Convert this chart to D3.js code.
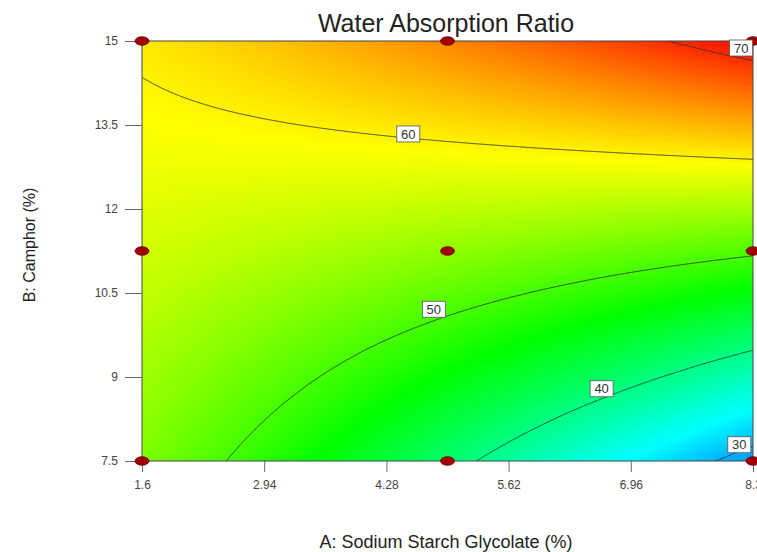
<!DOCTYPE html>
<html>
<head>
<meta charset="utf-8">
<script src="https://cdn.jsdelivr.net/npm/d3@7"></script>
<style>
  body { margin: 0; background: #fff; }
  svg { display: block; font-family: Arial, "Liberation Sans", sans-serif; }
</style>
</head>
<body>
<div id="chart"></div>
<script>
// ---- data ----
const xTicks = [1.6, 2.94, 4.28, 5.62, 6.96, 8.3];
const yTicks = [7.5, 9, 10.5, 12, 13.5, 15];
// predicted water absorption ratio at each tick crossing, rows from B = 7.5 up to B = 15
const response = [
  [52.90, 48.60, 43.70, 38.66, 33.49, 28.50],
  [54.60, 51.50, 48.10, 44.57, 40.94, 37.16],
  [56.28, 54.35, 52.36, 50.33, 48.24, 46.10],
  [57.86, 57.16, 56.51, 55.92, 55.37, 54.88],
  [59.27, 59.81, 60.51, 61.35, 62.35, 63.50],
  [60.52, 62.30, 64.34, 66.63, 69.17, 71.96]
];
const levels = [30, 40, 50, 60, 70];
const levelLabelX = [8.15, 6.64, 4.80, 4.52, 8.17];
const levelLabelY = [7.79, 8.79, 10.21, 13.34, 14.875];
const designA = [1.6, 4.95, 8.3];
const designB = [7.5, 11.25, 15];

const W = 757, H = 552;
const M = { top: 41, right: 4, bottom: 91, left: 142 };
const innerW = W - M.left - M.right;   // 611
const innerH = H - M.top - M.bottom;   // 420

const svg = d3.select('#chart').append('svg').attr('width', W).attr('height', H);

const x = d3.scaleLinear().domain([1.6, 8.3]).range([M.left, M.left + innerW]);
const y = d3.scaleLinear().domain([7.5, 15]).range([M.top + innerH, M.top]);
// tick value -> grid index
const xi = d3.scaleLinear().domain(d3.extent(xTicks)).range([0, xTicks.length - 1]);
const yi = d3.scaleLinear().domain(d3.extent(yTicks)).range([0, yTicks.length - 1]);

const color = d3.scaleLinear()
  .domain([21, 33.8, 46.6, 59.4, 72.2])
  .range(['#0000ff', '#00ffff', '#00ff00', '#ffff00', '#ff0000'])
  .clamp(true);

// smooth (catmull-rom) reading of the grid between ticks
function cr(p0, p1, p2, p3, t) {
  return 0.5 * (2 * p1 + (-p0 + p2) * t + (2 * p0 - 5 * p1 + 4 * p2 - p3) * t * t
    + (-p0 + 3 * p1 - 3 * p2 + p3) * t * t * t);
}
function at(arr, i) {
  const n = arr.length;
  if (i < 0) return 3 * arr[0] - 3 * arr[1] + arr[2];
  if (i >= n) return 3 * arr[n - 1] - 3 * arr[n - 2] + arr[n - 3];
  return arr[i];
}
function smooth(arr, u) {
  const i = Math.max(0, Math.min(arr.length - 2, Math.floor(u)));
  return cr(at(arr, i - 1), at(arr, i), at(arr, i + 1), at(arr, i + 2), u - i);
}

// sample the surface on a pixel grid (a few px of margin so contour borders fall outside the clip)
const pad = 4;
const nx = innerW + 2 * pad, ny = innerH + 2 * pad;
const field = new Float64Array(nx * ny);
for (let c = 0; c < nx; c++) {
  const u = xi(x.invert(M.left - pad + c + 0.5));
  const col = response.map(row => smooth(row, u));
  for (let r = 0; r < ny; r++) {
    const v = yi(y.invert(M.top - pad + r + 0.5));
    field[r * nx + c] = smooth(col, v);
  }
}

// colour image
const canvas = document.createElement('canvas');
canvas.width = innerW; canvas.height = innerH;
const ctx = canvas.getContext('2d');
const img = ctx.createImageData(innerW, innerH);
for (let r = 0; r < innerH; r++) {
  for (let c = 0; c < innerW; c++) {
    const rgb = d3.rgb(color(field[(r + pad) * nx + c + pad]));
    const k = (r * innerW + c) * 4;
    img.data[k] = rgb.r; img.data[k + 1] = rgb.g; img.data[k + 2] = rgb.b; img.data[k + 3] = 255;
  }
}
ctx.putImageData(img, 0, 0);

svg.append('defs').append('clipPath').attr('id', 'plot-clip')
  .append('rect').attr('x', M.left).attr('y', M.top).attr('width', innerW).attr('height', innerH);

svg.append('image')
  .attr('x', M.left).attr('y', M.top).attr('width', innerW).attr('height', innerH)
  .attr('preserveAspectRatio', 'none')
  .attr('href', canvas.toDataURL());

// contour lines
const contours = d3.contours().size([nx, ny]).thresholds(levels)(field);
const path = d3.geoPath(d3.geoIdentity().translate([M.left - pad, M.top - pad]));
svg.append('g').attr('clip-path', 'url(#plot-clip)')
  .selectAll('path').data(contours).join('path')
  .attr('d', path)
  .attr('fill', 'none')
  .attr('stroke', '#2a2a3a')
  .attr('stroke-opacity', 0.85)
  .attr('stroke-width', 1);

// frame
svg.append('rect')
  .attr('x', M.left).attr('y', M.top).attr('width', innerW).attr('height', innerH)
  .attr('fill', 'none').attr('stroke', '#444').attr('stroke-width', 1);

// axes
const gy = svg.append('g').attr('transform', `translate(${M.left},0)`)
  .call(d3.axisLeft(y).tickValues(yTicks).tickSize(17).tickPadding(7).tickFormat(d3.format('')));
const gx = svg.append('g').attr('transform', `translate(0,${M.top + innerH})`)
  .call(d3.axisBottom(x).tickValues(xTicks).tickSize(11).tickPadding(8).tickFormat(d3.format('')));
[gx, gy].forEach(g => {
  g.select('.domain').remove();
  g.selectAll('line').attr('stroke', '#666');
  g.selectAll('text').attr('fill', '#444').style('font-size', '12px')
    .style('font-family', 'Arial, "Liberation Sans", sans-serif');
});

// design points
const design = d3.cross(designA, designB);
svg.append('g').selectAll('ellipse').data(design).join('ellipse')
  .attr('cx', d => x(d[0])).attr('cy', d => y(d[1]))
  .attr('rx', 7).attr('ry', 4.3)
  .attr('fill', '#a00000').attr('stroke', '#6a0000').attr('stroke-width', 0.8);

// contour labels
const lab = svg.append('g').selectAll('g').data(levels).join('g')
  .attr('transform', (d, i) => `translate(${x(levelLabelX[i])},${y(levelLabelY[i])})`);
lab.append('rect')
  .attr('x', -11.5).attr('y', -8).attr('width', 23).attr('height', 16)
  .attr('fill', '#fff').attr('stroke', '#555').attr('stroke-width', 0.8);
lab.append('text')
  .attr('text-anchor', 'middle').attr('dy', '0.36em')
  .style('font-size', '13px').attr('fill', '#333')
  .text(d => d);

// titles
svg.append('text')
  .attr('x', 446).attr('y', 32).attr('text-anchor', 'middle')
  .style('font-size', '25px').attr('fill', '#222')
  .text('Water Absorption Ratio');
svg.append('text')
  .attr('x', 446).attr('y', 548).attr('text-anchor', 'middle')
  .style('font-size', '18px').attr('fill', '#222')
  .text('A: Sodium Starch Glycolate (%)');
svg.append('text')
  .attr('transform', 'translate(35,245) rotate(-90)').attr('text-anchor', 'middle')
  .style('font-size', '16px').attr('fill', '#222')
  .text('B: Camphor (%)');
</script>
</body>
</html>
